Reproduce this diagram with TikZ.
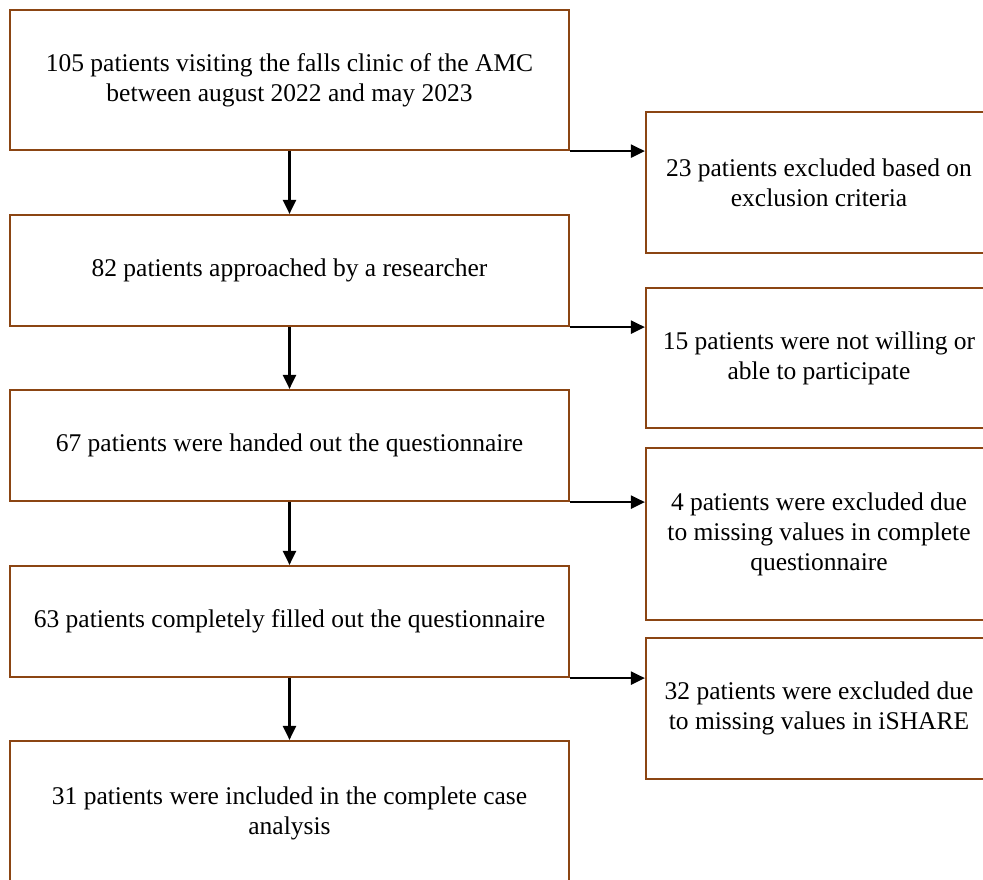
\documentclass[tikz,border=0pt]{standalone}
\usepackage{fontspec}
\setmainfont{Liberation Serif}
\usetikzlibrary{arrows.meta}
\definecolor{boxbrown}{HTML}{8B4513}
\tikzset{
  flowbox/.style={draw=boxbrown, line width=2.2pt, fill=white, align=center, inner sep=0pt, font=\fontsize{25.5}{30}\selectfont},
  leftbox/.style={flowbox, minimum width=559pt},
  rightbox/.style={flowbox, minimum width=346pt},
  arr/.style={draw=black, line width=2.2pt, -{Triangle[length=14pt,width=13pt]}}
}
\begin{document}
\begin{tikzpicture}[x=1pt,y=1pt]
\useasboundingbox (0,0) rectangle (983,-879);
\clip (0,0) rectangle (983,-879);
\fill[white] (0,0) rectangle (983,-879);
% left column
\node[leftbox, minimum height=140pt] (b1) at (289.5,-80) {105 patients visiting the falls clinic of the AMC\\between august 2022 and may 2023};
\node[leftbox, minimum height=111pt] (b2) at (289.5,-270.5) {82 patients approached by a researcher};
\node[leftbox, minimum height=111pt] (b3) at (289.5,-445.5) {67 patients were handed out the questionnaire};
\node[leftbox, minimum height=111pt] (b4) at (289.5,-621.5) {63 patients completely filled out the questionnaire};
\node[leftbox, minimum height=144pt] (b5) at (289.5,-813) {31 patients were included in the complete case\\analysis};
% right column
\node[rightbox, minimum height=141pt] (r1) at (819,-182.5) {23 patients excluded based on\\exclusion criteria};
\node[rightbox, minimum height=140pt] (r2) at (819,-358) {15 patients were not willing or\\able to participate};
\node[rightbox, minimum height=172pt] (r3) at (819,-534) {4 patients were excluded due\\to missing values in complete\\questionnaire};
\node[rightbox, minimum height=141pt] (r4) at (819,-708.5) {32 patients were excluded due\\to missing values in iSHARE};
% vertical arrows
\draw[arr] (b1.south) -- (b2.north);
\draw[arr] (b2.south) -- (b3.north);
\draw[arr] (b3.south) -- (b4.north);
\draw[arr] (b4.south) -- (b5.north);
% horizontal arrows
\draw[arr] (b1.south east) -- (b1.south east -| r1.west);
\draw[arr] (b2.south east) -- (b2.south east -| r2.west);
\draw[arr] (b3.south east) -- (b3.south east -| r3.west);
\draw[arr] (b4.south east) -- (b4.south east -| r4.west);
\end{tikzpicture}
\end{document}
